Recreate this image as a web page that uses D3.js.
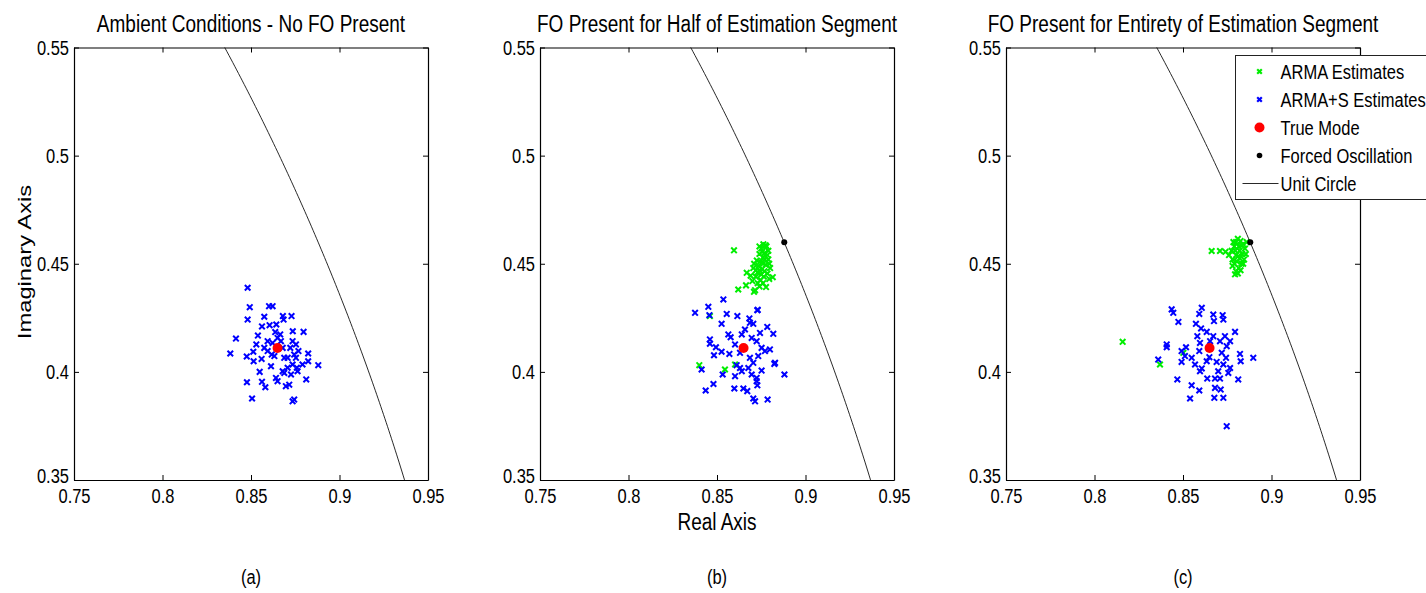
<!DOCTYPE html>
<meta charset="utf-8">
<script src="https://d3js.org/d3.v7.min.js"></script>
<style>
  body { margin: 0; background: #fff; }
  text { font-family: "Liberation Sans", Arial, sans-serif; fill: #000; }
</style>
<div id="chart"></div>
<script>
var width = 1426, height = 593

// axis ranges / ticks
var xTicks = [0.75, 0.8, 0.85, 0.9, 0.95]
var yTicks = [0.35, 0.4, 0.45, 0.5, 0.55]

var panelTitles = ["Ambient Conditions - No FO Present",
                   "FO Present for Half of Estimation Segment",
                   "FO Present for Entirety of Estimation Segment"]
var panelLabels = ["(a)", "(b)", "(c)"]

var trueMode = [0.865, 0.411]
var forcedOsc = [0.888, 0.46]

var legendNames = ["ARMA Estimates", "ARMA+S Estimates", "True Mode", "Forced Oscillation", "Unit Circle"]

// panel (a): ARMA+S only
var armaSA = [[0.8481,0.4389],[0.8493,0.4299],[0.8481,0.4242],[0.8415,0.4154],[0.8383,0.4085],[0.8476,0.4071],
  [0.8513,0.4093],[0.8515,0.4049],[0.8477,0.3952],[0.8506,0.3877],[0.8549,0.4000],[0.8562,0.3954],[0.8581,0.3929],
  [0.8560,0.4060],[0.8530,0.4127],[0.8539,0.4168],[0.8562,0.4210],[0.8575,0.4255],[0.8605,0.4216],[0.8602,0.4304],
  [0.8622,0.4304],[0.8643,0.4219],[0.8637,0.4184],[0.8594,0.4142],[0.8575,0.4111],[0.8617,0.4080],[0.8613,0.4026],
  [0.8641,0.3972],[0.8650,0.3957],[0.8697,0.3934],[0.8716,0.3941],[0.8679,0.4003],[0.8688,0.4065],[0.8679,0.4111],
  [0.8665,0.4173],[0.8680,0.4258],[0.8684,0.4242],[0.8729,0.4258],[0.8736,0.4188],[0.8735,0.4142],[0.8722,0.4111],
  [0.8744,0.4080],[0.8754,0.4065],[0.8735,0.4034],[0.8763,0.4003],[0.8791,0.4034],[0.8797,0.4185],[0.8823,0.4085],
  [0.8823,0.4049],[0.8812,0.3965],[0.8880,0.4031],[0.8735,0.3864],[0.8744,0.3872],[0.8726,0.3988],[0.8707,0.4019],
  [0.8669,0.4142],[0.8650,0.4157],[0.8622,0.4134],[0.8754,0.4127],[0.8707,0.4065],[0.8688,0.3995],[0.8759,0.4019],
  [0.8768,0.4096],[0.8594,0.4096],[0.8632,0.4073]]

// panel (b)
var armaB = [[0.8596,0.4562],[0.8620,0.4381],[0.8668,0.4458],[0.8664,0.4400],[0.8709,0.4370],[0.8777,0.4392],
  [0.8815,0.4438],[0.8715,0.4378],[0.8700,0.4420],[0.8690,0.4445],[0.8720,0.4470],[0.8735,0.4490],[0.8745,0.4510],
  [0.8760,0.4530],[0.8770,0.4550],[0.8762,0.4590],[0.8780,0.4580],[0.8790,0.4560],[0.8750,0.4570],[0.8740,0.4545],
  [0.8725,0.4515],[0.8710,0.4500],[0.8730,0.4460],[0.8755,0.4475],[0.8775,0.4495],[0.8790,0.4520],[0.8800,0.4480],
  [0.8785,0.4455],[0.8765,0.4440],[0.8745,0.4425],[0.8730,0.4410],[0.8760,0.4410],[0.8795,0.4430],[0.8740,0.4395],
  [0.8760,0.4500],[0.8740,0.4470],[0.8770,0.4520],[0.8755,0.4555],[0.8785,0.4540],[0.8720,0.4440],[0.8705,0.4480],
  [0.8768,0.4465],[0.8795,0.4500],[0.8750,0.4450],[0.8775,0.4585],[0.8740,0.4580],
  [0.8400,0.4031],[0.8545,0.4011],[0.8602,0.4034],[0.8460,0.4258]]
var armaSB = [[0.8376,0.4273],[0.8451,0.4301],[0.8457,0.4262],[0.8536,0.4335],[0.8555,0.4268],[0.8615,0.4258],
  [0.8526,0.4222],[0.8683,0.4247],[0.8705,0.4222],[0.8728,0.4285],[0.8784,0.4208],[0.8818,0.4176],[0.8460,0.4150],
  [0.8460,0.4130],[0.8494,0.4114],[0.8526,0.4093],[0.8483,0.4077],[0.8564,0.4173],[0.8577,0.4160],[0.8570,0.4083],
  [0.8602,0.4127],[0.8630,0.4088],[0.8640,0.4173],[0.8658,0.4196],[0.8686,0.4227],[0.8696,0.4157],[0.8724,0.4142],
  [0.8743,0.4180],[0.8752,0.4111],[0.8733,0.4073],[0.8771,0.4096],[0.8799,0.4104],[0.8686,0.4065],[0.8705,0.4042],
  [0.8677,0.4018],[0.8630,0.4018],[0.8611,0.4031],[0.8640,0.4003],[0.8696,0.3988],[0.8724,0.3972],[0.8752,0.4006],
  [0.8828,0.4042],[0.8881,0.3988],[0.8413,0.4011],[0.8532,0.3988],[0.8602,0.3980],[0.8480,0.3944],[0.8436,0.3914],
  [0.8598,0.3923],[0.8649,0.3923],[0.8671,0.3911],[0.8728,0.3938],[0.8705,0.3877],[0.8715,0.3864],[0.8786,0.3872],
  [0.8724,0.3957],[0.8730,0.4287],[0.8824,0.4037]]

// panel (c)
var armaC = [[0.8662,0.4559],[0.8709,0.4559],[0.8740,0.4555],[0.8760,0.4540],[0.8775,0.4560],[0.8790,0.4580],
  [0.8800,0.4600],[0.8810,0.4615],[0.8825,0.4605],[0.8840,0.4590],[0.8850,0.4570],[0.8855,0.4545],[0.8845,0.4520],
  [0.8830,0.4500],[0.8815,0.4480],[0.8800,0.4465],[0.8794,0.4451],[0.8810,0.4455],[0.8790,0.4500],[0.8780,0.4520],
  [0.8800,0.4540],[0.8820,0.4560],[0.8835,0.4545],[0.8820,0.4525],[0.8805,0.4510],[0.8815,0.4580],[0.8795,0.4560],
  [0.8830,0.4585],[0.8812,0.4535],[0.8780,0.4490],[0.8860,0.4600],[0.8785,0.4600],[0.8825,0.4470],[0.8840,0.4500],
  [0.8159,0.4139],[0.8370,0.4034],[0.8502,0.4088]]
var armaSC = [[0.8436,0.4289],[0.8445,0.4273],[0.8474,0.4231],[0.8606,0.4296],[0.8592,0.4268],[0.8671,0.4265],
  [0.8675,0.4235],[0.8724,0.4262],[0.8728,0.4242],[0.8573,0.4222],[0.8602,0.4201],[0.8634,0.4185],[0.8581,0.4165],
  [0.8671,0.4165],[0.8737,0.4165],[0.8794,0.4185],[0.8408,0.4127],[0.8408,0.4114],[0.8517,0.4114],[0.8492,0.4096],
  [0.8511,0.4073],[0.8596,0.4134],[0.8592,0.4096],[0.8549,0.4065],[0.8492,0.4046],[0.8360,0.4057],[0.8606,0.4016],
  [0.8649,0.4068],[0.8690,0.4046],[0.8719,0.4088],[0.8747,0.4119],[0.8743,0.4065],[0.8766,0.4018],[0.8756,0.3995],
  [0.8699,0.4003],[0.8681,0.3969],[0.8637,0.3969],[0.8596,0.4003],[0.8822,0.4083],[0.8826,0.4049],[0.8897,0.4065],
  [0.8812,0.3965],[0.8709,0.3969],[0.8468,0.3965],[0.8549,0.3938],[0.8592,0.3914],[0.8540,0.3877],[0.8681,0.3926],
  [0.8713,0.3918],[0.8677,0.3880],[0.8728,0.3880],[0.8747,0.3749],[0.8653,0.4142],[0.8709,0.4142],[0.8766,0.4142],
  [0.8728,0.4034],[0.8634,0.4049],[0.8568,0.4034]]

var panels = [
  {arma: [], armaS: armaSA, fo: false},
  {arma: armaB, armaS: armaSB, fo: true},
  {arma: armaC, armaS: armaSC, fo: true}
]

var panelX = [74, 540, 1006]
var pTop = 47.5, pW = 354, pH = 432.5
var stretch = 1.25

var svg = d3.select("#chart").append("svg")
    .attr("width", width)
    .attr("height", height)

var x = d3.scaleLinear().domain([0.75, 0.95]).range([0, pW])
var y = d3.scaleLinear().domain([0.35, 0.55]).range([pH, 0])

// unit circle in the first quadrant
var circlePts = d3.range(0, Math.PI / 2, 0.002).map(function(a) { return [Math.cos(a), Math.sin(a)] })
var line = d3.line().x(function(d) { return x(d[0]) }).y(function(d) { return y(d[1]) })

function xMark(sel, color, s, w) {
  sel.append("path")
    .attr("d", "M" + (-s) + "," + (-s) + "L" + s + "," + s + "M" + (-s) + "," + s + "L" + s + "," + (-s))
    .style("stroke", color)
    .style("stroke-width", w || 2)
    .style("fill", "none")
}

function stretchText(g, tx, ty, str, size, anchor, rot) {
  return g.append("text")
    .attr("transform", "translate(" + tx + "," + ty + ") scale(1," + stretch + ")" + (rot ? " rotate(" + rot + ")" : ""))
    .attr("text-anchor", anchor || "middle")
    .style("font-size", size + "px")
    .text(str)
}

panels.forEach(function(p, i) {
  var g = svg.append("g").attr("transform", "translate(" + panelX[i] + "," + pTop + ")")

  g.append("clipPath").attr("id", "clip" + i)
    .append("rect").attr("width", pW).attr("height", pH)

  var plot = g.append("g").attr("clip-path", "url(#clip" + i + ")")

  // ARMA estimates (green)
  plot.selectAll(".arma")
    .data(p.arma)
    .enter().append("g")
      .attr("class", "arma")
      .attr("transform", function(d) { return "translate(" + x(d[0]) + "," + y(d[1]) + ")" })
      .call(xMark, "#00ee00", 2.8)

  // ARMA+S estimates (blue)
  plot.selectAll(".armas")
    .data(p.armaS)
    .enter().append("g")
      .attr("class", "armas")
      .attr("transform", function(d) { return "translate(" + x(d[0]) + "," + y(d[1]) + ")" })
      .call(xMark, "#0000ff", 2.8)

  plot.append("circle")
    .attr("cx", x(trueMode[0])).attr("cy", y(trueMode[1]))
    .attr("r", 5).style("fill", "#ff0000")

  if (p.fo) {
    plot.append("circle")
      .attr("cx", x(forcedOsc[0])).attr("cy", y(forcedOsc[1]))
      .attr("r", 3).style("fill", "#000")
  }

  plot.append("path")
    .datum(circlePts)
    .attr("d", line)
    .style("fill", "none")
    .style("stroke", "#111")
    .style("stroke-width", 0.9)

  // box axes, ticks pointing inwards
  var fmt = function(d) { return String(d) }
  var axB = g.append("g").attr("transform", "translate(0," + pH + ")")
    .call(d3.axisBottom(x).tickValues(xTicks).tickFormat(fmt).tickSizeInner(-5).tickSizeOuter(0).tickPadding(6.5))
  var axT = g.append("g")
    .call(d3.axisTop(x).tickValues(xTicks).tickFormat("").tickSizeInner(-5).tickSizeOuter(0))
  var axL = g.append("g")
    .call(d3.axisLeft(y).tickValues(yTicks).tickFormat(fmt).tickSizeInner(-5).tickSizeOuter(0).tickPadding(5))
  var axR = g.append("g").attr("transform", "translate(" + pW + ",0)")
    .call(d3.axisRight(y).tickValues(yTicks).tickFormat("").tickSizeInner(-5).tickSizeOuter(0))

  ;[axB, axT, axL, axR].forEach(function(a) {
    a.selectAll("path.domain").style("stroke", "#000").style("stroke-width", 1.2)
    a.selectAll("line").style("stroke", "#000")
    a.selectAll("text")
      .style("font-family", "'Liberation Sans', Arial, sans-serif")
      .style("font-size", "16.5px")
      .style("fill", "#000")
      .attr("transform", "scale(1," + stretch + ")")
  })
  // lowest y label sits a little higher so it clears the x labels
  axL.selectAll("text").filter(function(d) { return d === yTicks[0] }).attr("y", -3)

  stretchText(svg, panelX[i] + pW / 2, 31.5, panelTitles[i], 19)
  stretchText(svg, panelX[i] + pW / 2, 584, panelLabels[i], 16.5)
})

stretchText(svg, 31, 262, "Imaginary Axis", 19, "middle", -90)
stretchText(svg, panelX[1] + pW / 2, 529.5, "Real Axis", 19)

// legend (sits over the right panel, clipped by the page edge)
var leg = svg.append("g").attr("transform", "translate(1235.5,55.5)")
leg.append("rect")
  .attr("width", 220).attr("height", 144)
  .style("fill", "#fff").style("stroke", "#222").style("stroke-width", 1)

var rowY = d3.scalePoint().domain(legendNames).range([16, 128])
var mx = 24
leg.append("g").attr("transform", "translate(" + mx + "," + rowY(legendNames[0]) + ")").call(xMark, "#00ee00", 2.3, 2.2)
leg.append("g").attr("transform", "translate(" + mx + "," + rowY(legendNames[1]) + ")").call(xMark, "#0000ff", 2.3, 2.2)
leg.append("circle").attr("cx", mx).attr("cy", rowY(legendNames[2])).attr("r", 5).style("fill", "#ff0000")
leg.append("circle").attr("cx", mx).attr("cy", rowY(legendNames[3])).attr("r", 2.8).style("fill", "#000")
leg.append("line")
  .attr("x1", 7).attr("x2", 43)
  .attr("y1", rowY(legendNames[4])).attr("y2", rowY(legendNames[4]))
  .style("stroke", "#111").style("stroke-width", 0.9)

legendNames.forEach(function(n) {
  leg.append("text")
    .attr("transform", "translate(45," + rowY(n) + ") scale(1," + stretch + ")")
    .attr("dy", "0.35em")
    .style("font-size", "16.5px")
    .text(n)
})
</script>
